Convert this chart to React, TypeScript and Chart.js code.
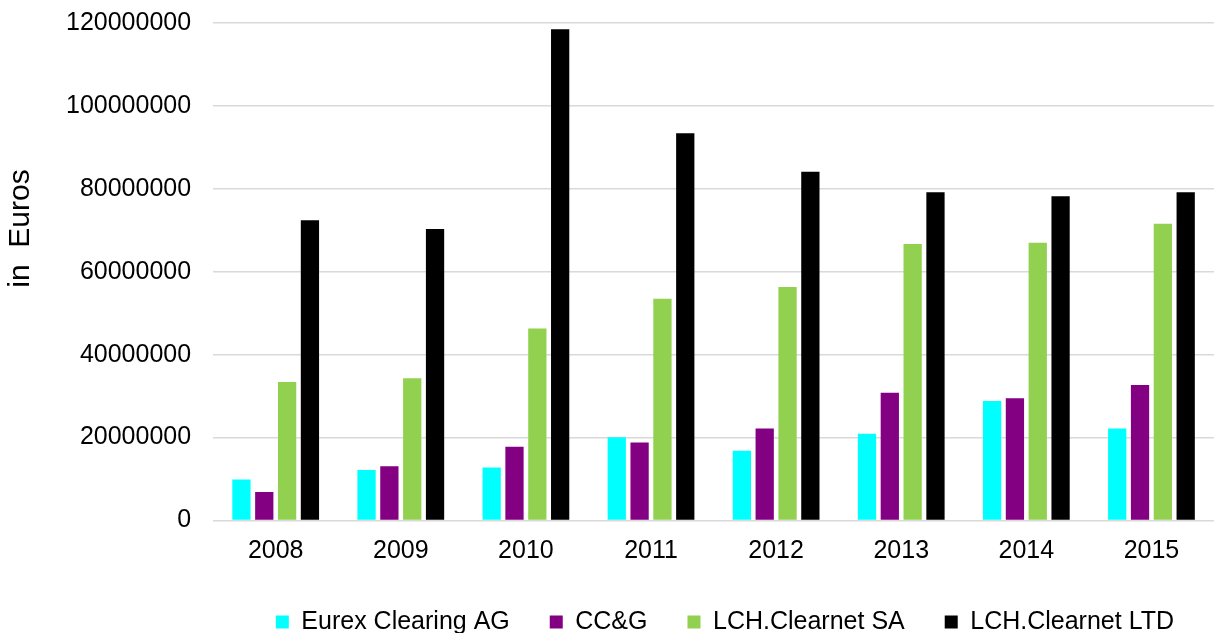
import React, { useEffect, useRef } from "react";
import { Chart, registerables } from "chart.js";

Chart.register(...registerables);

const years = ["2008", "2009", "2010", "2011", "2012", "2013", "2014", "2015"];
const eurexClearing = [9900000, 12200000, 12800000, 20100000, 16800000, 20900000, 28800000, 22200000];
const ccg = [6900000, 13100000, 17800000, 18800000, 22200000, 30800000, 29500000, 32700000];
const lchSA = [33400000, 34300000, 46300000, 53500000, 56300000, 66700000, 67000000, 71600000];
const lchLTD = [72400000, 70300000, 118500000, 93400000, 84100000, 79200000, 78200000, 79200000];
const seriesNames = ["Eurex Clearing AG", "CC&G", "LCH.Clearnet SA", "LCH.Clearnet LTD"];
const yTitle = "in  Euros";
const yMax = 120000000;
const yStep = 20000000;

const FONT = '"Liberation Sans", Arial, sans-serif';

const yTitlePlugin = {
  id: "yTitleCustom",
  afterDraw(chart: any) {
    const { ctx, chartArea } = chart;
    ctx.save();
    ctx.translate(20.5, chartArea.top + (chartArea.bottom - chartArea.top) * 0.413);
    ctx.rotate(-Math.PI / 2);
    ctx.font = `30px ${FONT}`;
    ctx.textAlign = "center";
    ctx.textBaseline = "middle";
    ctx.fillStyle = "#000000";
    ctx.fillText(yTitle, 0, 0);
    ctx.restore();
  },
};

export default function App() {
  const canvasRef = useRef<HTMLCanvasElement | null>(null);

  useEffect(() => {
    if (!canvasRef.current) return;
    const chart = new Chart(canvasRef.current, {
      type: "bar",
      data: {
        labels: years,
        datasets: [
          { label: seriesNames[0], data: eurexClearing, backgroundColor: "#00FFFF" },
          { label: seriesNames[1], data: ccg, backgroundColor: "#830083" },
          { label: seriesNames[2], data: lchSA, backgroundColor: "#92D050" },
          { label: seriesNames[3], data: lchLTD, backgroundColor: "#000000" },
        ],
      },
      options: {
        animation: false,
        responsive: true,
        maintainAspectRatio: false,
        datasets: {
          bar: { categoryPercentage: 0.73, barPercentage: 0.8 },
        },
        layout: { padding: { left: 44, right: 11, top: 0, bottom: 0 } },
        plugins: {
          tooltip: { enabled: false },
          title: { display: false },
          legend: {
            display: true,
            position: "bottom",
            align: "end",
            fullSize: true,
            maxHeight: 63.5,
            labels: {
              boxWidth: 13,
              boxHeight: 13,
              padding: 40,
              color: "#000000",
              font: { family: FONT, size: 25 },
            },
          },
        },
        scales: {
          x: {
            grid: { display: false, drawTicks: false },
            border: { display: false },
            ticks: {
              color: "#000000",
              padding: 16,
              font: { family: FONT, size: 25 },
            },
            afterFit: (scale: any) => {
              scale.height = 49;
            },
          },
          y: {
            min: 0,
            max: yMax,
            grid: { color: "#d9d9d9", lineWidth: 1.5, drawTicks: false },
            border: { display: false },
            ticks: {
              stepSize: yStep,
              color: "#000000",
              padding: 22,
              font: { family: FONT, size: 25, lineHeight: 0.08 },
              callback: (v: any) => String(v),
            },
          },
        },
      },
      plugins: [yTitlePlugin],
    });
    return () => chart.destroy();
  }, []);

  return (
    <div style={{ position: "absolute", left: 0, top: 0, width: 1225, height: 633, background: "#ffffff" }}>
      <canvas ref={canvasRef} />
    </div>
  );
}
